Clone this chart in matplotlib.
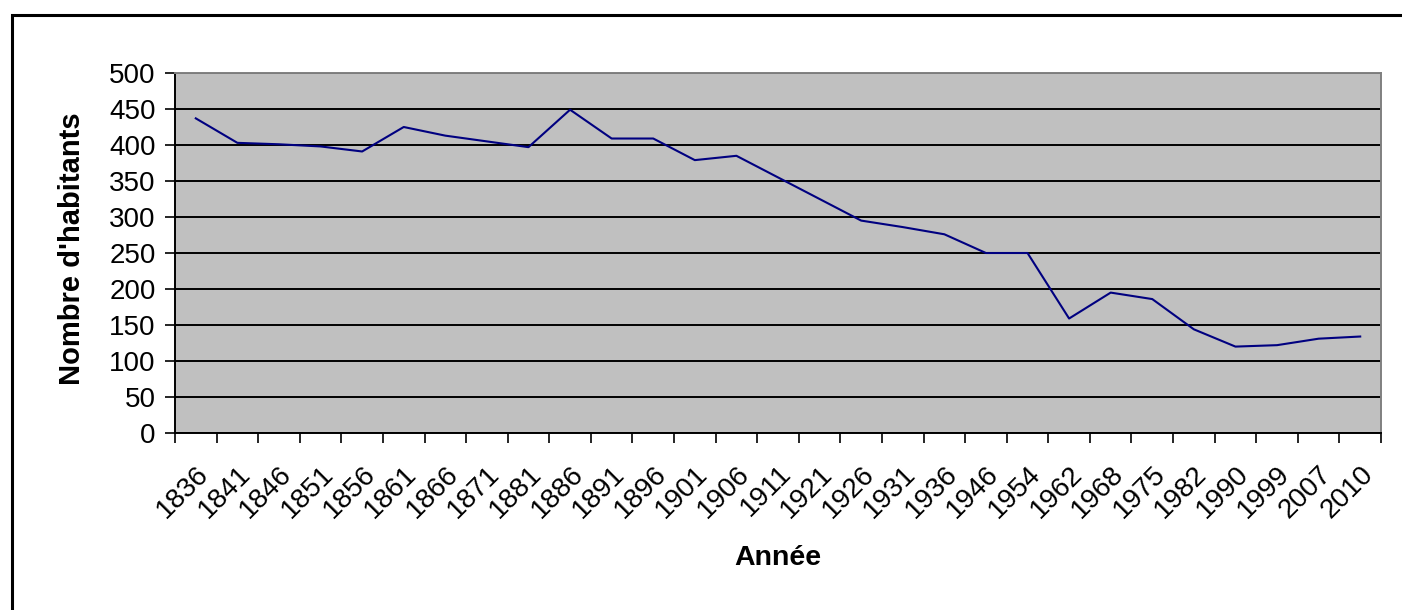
import matplotlib.pyplot as plt
from matplotlib.patches import Rectangle
from matplotlib.transforms import ScaledTranslation

plt.rcParams['font.family'] = ['Liberation Sans', 'DejaVu Sans']

annees = ['1836', '1841', '1846', '1851', '1856', '1861', '1866', '1871', '1881',
          '1886', '1891', '1896', '1901', '1906', '1911', '1921', '1926', '1931',
          '1936', '1946', '1954', '1962', '1968', '1975', '1982', '1990', '1999',
          '2007', '2010']
habitants = [437, 403, 401, 398, 391, 425, 413, 405, 397,
             449, 409, 409, 379, 385, 355, 325, 295, 286,
             276, 250, 250, 159, 195, 186, 144, 120, 122,
             131, 134]

fig = plt.figure(figsize=(14.02, 6.10), dpi=100)
ax = fig.add_axes([175 / 1402, 1 - 433 / 610, 1206 / 1402, 360 / 610])

# cadre extérieur du graphique (coupé à droite et en bas)
fig.patches.append(Rectangle((12 / 1402, -0.1), 1.2, (610 - 15) / 610 + 0.1,
                             transform=fig.transFigure, fill=False,
                             edgecolor='black', linewidth=2.2, zorder=0))

x = [i + 0.5 for i in range(len(annees))]
ax.plot(x, habitants, color='#000080', linewidth=1.5, zorder=3)

ax.set_facecolor('#c0c0c0')
ax.set_xlim(0, len(annees))
ax.set_ylim(0, 500)
ax.set_yticks(range(0, 501, 50))
ax.set_xticks(range(len(annees) + 1))
ax.set_xticklabels([])
ax.set_xticks(x, minor=True)
ax.set_xticklabels(annees, minor=True, rotation=45, ha='right', va='top',
                   rotation_mode='anchor', fontsize=20)
decal = ScaledTranslation(-12 / 100, 0, fig.dpi_scale_trans)
for lab in ax.get_xticklabels(minor=True):
    lab.set_transform(lab.get_transform() + decal)
ax.tick_params(axis='x', which='minor', length=0, pad=20)
ax.tick_params(axis='x', which='major', direction='out', length=7, width=1.2)
ax.tick_params(axis='y', direction='out', length=7, width=1.2, labelsize=20, pad=7)

ax.yaxis.grid(True, color='black', linewidth=1.4)
ax.set_axisbelow(True)

for s in ['top', 'right']:
    ax.spines[s].set_color('#808080')
    ax.spines[s].set_linewidth(1.4)
for s in ['left', 'bottom']:
    ax.spines[s].set_color('black')
    ax.spines[s].set_linewidth(1.4)

fig.text(778 / 1402, 1 - 558 / 610, 'Année', ha='center', va='center',
         fontsize=20.5, fontweight='bold')
fig.text(72 / 1402, 1 - 249 / 610, "Nombre d'habitants", ha='center', va='center',
         rotation=90, fontsize=21, fontweight='bold')

fig.savefig('out.png', dpi=100)
